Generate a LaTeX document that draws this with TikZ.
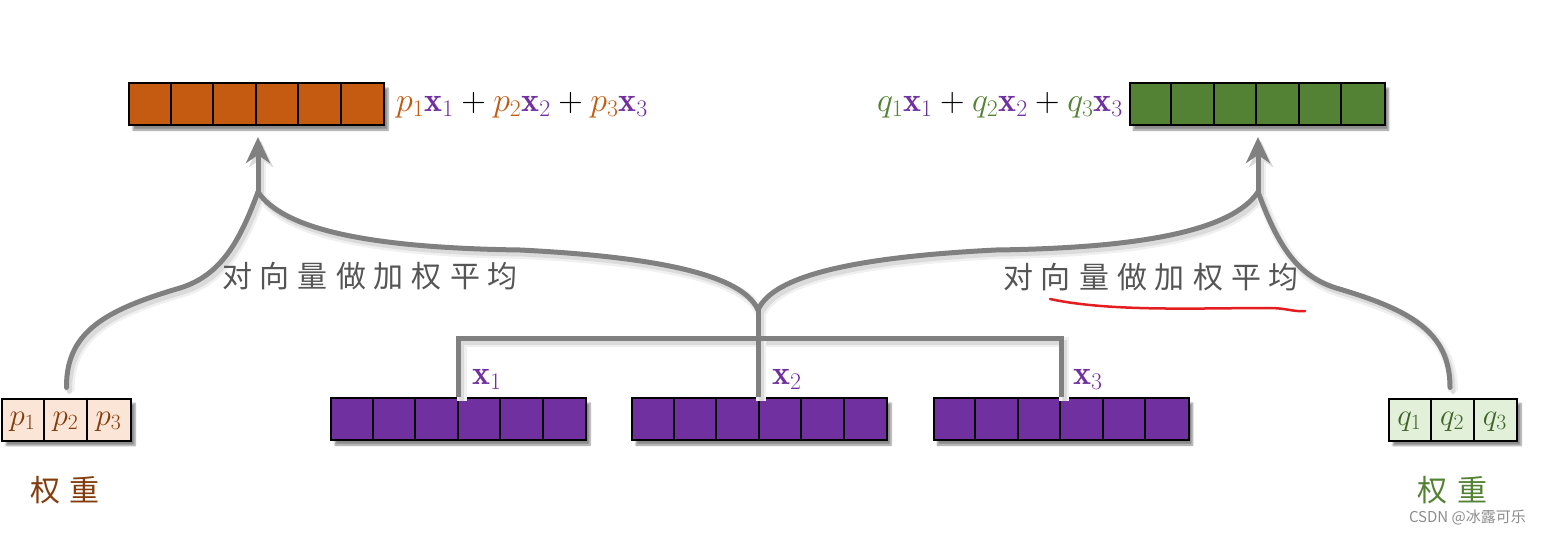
\documentclass[tikz,border=0pt]{standalone}
\usepackage{fix-cm}
\usepackage{fontspec}
\newfontfamily\cjk{Noto Sans CJK SC}
\usetikzlibrary{shadows.blur,arrows.meta}
\definecolor{orng}{HTML}{C55A11}
\definecolor{brwn}{HTML}{843C0C}
\definecolor{grn}{HTML}{548235}
\definecolor{dgrn}{HTML}{3F6428}
\definecolor{purp}{HTML}{7030A0}
\definecolor{lorng}{HTML}{FBE5D6}
\definecolor{lgrn}{HTML}{E2F0D9}
\definecolor{txtgray}{HTML}{555555}
\definecolor{ulred}{HTML}{E41E20}
\definecolor{conngray}{HTML}{808080}
\newcommand\cjsp{\hspace{8pt}}
\begin{document}
\begin{tikzpicture}[x=1pt,y=-1pt,
  vec/.style={draw=black, line width=2pt, minimum height=42pt, inner sep=0pt,
    blur shadow={shadow xshift=4pt, shadow yshift=-5pt, shadow blur steps=6, shadow opacity=45}},
  cellline/.style={draw=black, line width=2pt},
  conn/.style={draw=conngray, line width=5pt},
  shd/.style={draw=black!14, line width=5pt, transform canvas={xshift=3pt,yshift=-4pt},
    preaction={draw=black!6, line width=10pt, transform canvas={xshift=3pt,yshift=-4pt}}},
  tip/.style={-{Stealth[length=26pt,width=24pt,inset=8pt]}, shorten >=11pt},
  formula/.style={inner sep=0pt, font=\fontsize{34}{38}\selectfont},
  cjklabel/.style={inner sep=0pt, font=\cjk\fontsize{30}{34}\selectfont},
  celltext/.style={inner sep=0pt, font=\fontsize{31}{36}\selectfont}]
\useasboundingbox (0,0) rectangle (1541,535);

% vectors
\node[vec, fill=orng, minimum width=255pt] (vo) at (256.5,104) {};
\node[vec, fill=grn, minimum width=255pt] (vg) at (1257,104) {};
\node[vec, fill=purp, minimum width=255pt] (x1) at (458.5,419) {};
\node[vec, fill=purp, minimum width=255pt] (x2) at (759.5,419) {};
\node[vec, fill=purp, minimum width=255pt] (x3) at (1061,419) {};
\node[vec, fill=lorng, minimum width=129pt] (pw) at (66.5,419.5) {};
\node[vec, fill=lgrn, minimum width=128pt] (qw) at (1453,419.5) {};
\foreach \v in {vo,vg,x1,x2,x3}{
  \foreach \i in {1,...,5}{
    \draw[cellline] ([xshift=\i*42.5pt]\v.north west) -- ([xshift=\i*42.5pt]\v.south west);
  }
}
\foreach \v in {pw,qw}{
  \foreach \i in {1,2}{
    \draw[cellline] ([xshift=\i*43pt]\v.north west) -- ([xshift=\i*43pt]\v.south west);
  }
}
\foreach \i in {1,2,3}{
  \node[celltext, text=brwn] (p\i) at ([xshift=\i*43pt-21.5pt,yshift=-2pt]pw.west) {$p_{\i}$};
  \node[celltext, text=dgrn] (q\i) at ([xshift=\i*42.7pt-21.3pt,yshift=-2pt]qw.west) {$q_{\i}$};
}

% connectors (shadows first, then lines)
\coordinate (bar) at (0,338);
\coordinate (fork) at (758,310);
\coordinate (jL) at (258,192);
\coordinate (jR) at (1258,192);
\foreach \st in {shd,conn}{
  \draw[\st, tip] (jL) -- (jL |- vo.south);
  \draw[\st, tip] (jR) -- (jR |- vg.south);
  \draw[\st, line cap=round] (fork) .. controls (745,280) and (680,258) .. (520,250)
    .. controls (380,248) and (285,232) .. (jL);
  \draw[\st, line cap=round] (fork) .. controls (771,280) and (836,258) .. (996,250)
    .. controls (1136,248) and (1231,232) .. (jR);
  \draw[\st, line cap=round] ([yshift=10pt]pw.north) .. controls (66,332) and (105,310) .. (180,288)
    .. controls (222,275) and (240,240) .. (jL);
  \draw[\st, line cap=round] ([yshift=10pt]qw.north -| 1450,0) .. controls (1450,332) and (1411,310) .. (1336,288)
    .. controls (1294,275) and (1276,240) .. (jR);
  \draw[\st] (x1.north) -- (x1.north |- bar) -- (x3.north |- bar) -- (x3.north);
  \draw[\st] (x2.north -| fork) -- (fork);
}

% formulas
\node[formula, anchor=west] (fp) at (396,105)
  {${\color{orng}p_1}{\color{purp}\mathbf{x}_1}+{\color{orng}p_2}{\color{purp}\mathbf{x}_2}+{\color{orng}p_3}{\color{purp}\mathbf{x}_3}$};
\node[formula, anchor=east] (fq) at (1123,105)
  {${\color{grn}q_1}{\color{purp}\mathbf{x}_1}+{\color{grn}q_2}{\color{purp}\mathbf{x}_2}+{\color{grn}q_3}{\color{purp}\mathbf{x}_3}$};

% x labels
\node[formula, anchor=base west, text=purp] (lx1) at (472,384) {$\mathbf{x}_1$};
\node[formula, anchor=base west, text=purp] (lx2) at (772,384) {$\mathbf{x}_2$};
\node[formula, anchor=base west, text=purp] (lx3) at (1073,384) {$\mathbf{x}_3$};

% chinese labels
\node[cjklabel, text=txtgray] (tl) at (370,276) {对\cjsp 向\cjsp 量\cjsp 做\cjsp 加\cjsp 权\cjsp 平\cjsp 均};
\node[cjklabel, text=txtgray] (tr) at (1151,277) {对\cjsp 向\cjsp 量\cjsp 做\cjsp 加\cjsp 权\cjsp 平\cjsp 均};
\node[cjklabel, text=brwn] (wl) at (65,490) {权\hspace{10pt}重};
\node[cjklabel, text=grn] (wr) at (1452,490) {权\hspace{10pt}重};

% red underline
\draw[ulred, line width=2.5pt, line cap=round] (1050,299) .. controls (1110,312) and (1200,308) .. (1268,308)
  .. controls (1288,308) and (1292,312) .. (1305,311);

% watermark
\node[inner sep=0pt, anchor=east, font=\cjk\fontsize{15}{18}\selectfont, text=black!45] (wm) at (1526,517) {CSDN @冰露可乐};
\end{tikzpicture}
\end{document}
